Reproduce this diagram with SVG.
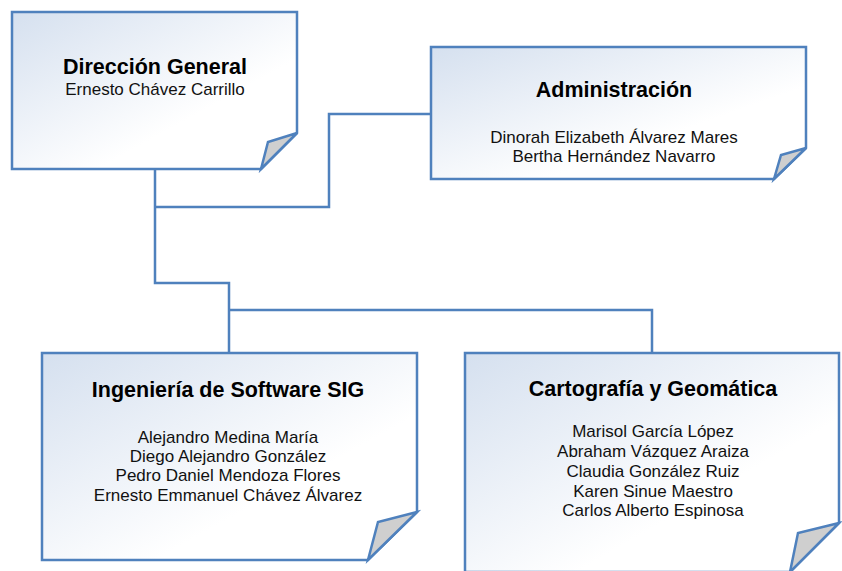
<svg xmlns="http://www.w3.org/2000/svg" width="842" height="571" viewBox="0 0 842 571">
<defs>
<linearGradient id="g" x1="0" y1="0" x2="1" y2="1">
<stop offset="0" stop-color="#d5e0ef"/>
<stop offset="0.65" stop-color="#ffffff"/>
</linearGradient>
<style>
.box{fill:url(#g);stroke:#4f81bd;stroke-width:2.5;stroke-linejoin:miter}
.flap{fill:#cfcfcf;stroke:#4f81bd;stroke-width:2.5;stroke-linejoin:miter}
.conn{fill:none;stroke:#4f81bd;stroke-width:2.5}
.t{font-family:"Liberation Sans",Arial,sans-serif;font-size:21.5px;font-weight:bold;fill:#000;text-anchor:middle}
.n{font-family:"Liberation Sans",Arial,sans-serif;font-size:17px;fill:#111;text-anchor:middle}
</style>
</defs>
<rect width="842" height="571" fill="#fff"/>
<g id="connectors">
<path class="conn" d="M155,169 V283 H229 V353"/>
<path class="conn" d="M155,207 H329 V114 H431"/>
<path class="conn" d="M229,310 H652 V353"/>
</g>
<g id="direccion">
<path class="box" d="M12,12 H297 V133 L261,169 H12 Z"/>
<polygon class="flap" points="297,133 268,142 261,169"/>
<text class="t" x="155" y="74">Dirección General</text>
<text class="n" x="155" y="95">Ernesto Chávez Carrillo</text>
</g>
<g id="administracion">
<path class="box" d="M431,47 H806 V148 L774,179 H431 Z"/>
<polygon class="flap" points="806,148 781,155 774,179"/>
<text class="t" x="614" y="97">Administración</text>
<text class="n" x="614" y="143">Dinorah Elizabeth Álvarez Mares</text>
<text class="n" x="614" y="162">Bertha Hernández Navarro</text>
</g>
<g id="ingenieria">
<path class="box" d="M42,353 H417 V512 L368,560 H42 Z"/>
<polygon class="flap" points="417,512 378,522 368,560"/>
<text class="t" x="228" y="397">Ingeniería de Software SIG</text>
<text class="n" x="228" y="443">Alejandro Medina María</text>
<text class="n" x="228" y="462">Diego Alejandro González</text>
<text class="n" x="228" y="481">Pedro Daniel Mendoza Flores</text>
<text class="n" x="228" y="501">Ernesto Emmanuel Chávez Álvarez</text>
</g>
<g id="cartografia">
<path class="box" d="M465,353 H839 V523 L790,572 H465 Z"/>
<polygon class="flap" points="839,523 798,533 790,572"/>
<text class="t" x="653" y="396">Cartografía y Geomática</text>
<text class="n" x="653" y="437">Marisol García López</text>
<text class="n" x="653" y="457">Abraham Vázquez Araiza</text>
<text class="n" x="653" y="477">Claudia González Ruiz</text>
<text class="n" x="653" y="497">Karen Sinue Maestro</text>
<text class="n" x="653" y="516">Carlos Alberto Espinosa</text>
</g>
</svg>
